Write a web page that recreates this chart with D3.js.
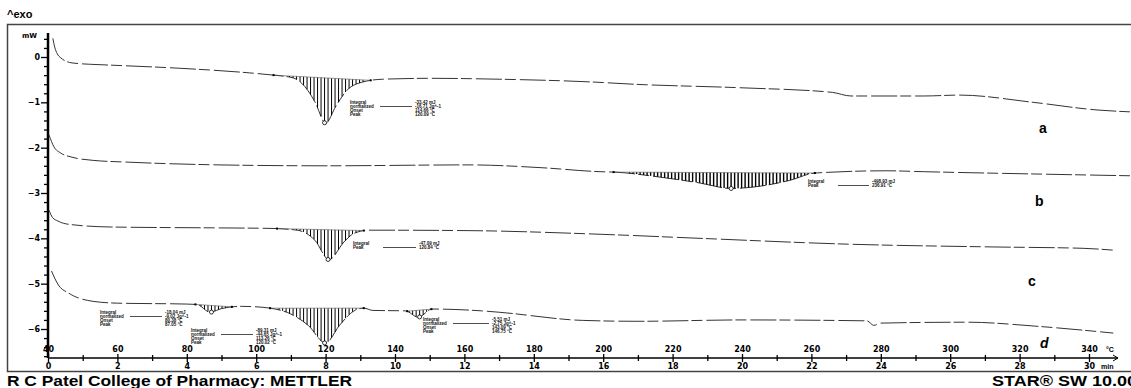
<!DOCTYPE html>
<html>
<head>
<meta charset="utf-8">
<script src="https://cdn.jsdelivr.net/npm/d3@7/dist/d3.min.js"></script>
<style>
body { margin: 0; background: #fff; }
svg text { font-family: "Liberation Sans", Arial, sans-serif; }
</style>
</head>
<body>
<svg id="chart" width="1131" height="388"></svg>
<script>
// thermogram traces, [time (min), heat flow (mW)]
var curveA = [[0.14, 0.41], [0.2, 0.2], [0.26, 0.08], [0.37, -0.02], [0.69, -0.13], [1.2, -0.16],
    [1.82, -0.18], [3.83, -0.25], [5.8, -0.35], [6.5, -0.40], [7.06, -0.46], [7.41, -0.66],
    [7.7, -1.0], [8.0, -1.46], [8.3, -1.08], [8.62, -0.73], [9.08, -0.55], [9.65, -0.49],
    [11.0, -0.47], [13.0, -0.49], [15.65, -0.55], [16.86, -0.60], [20.0, -0.68], [22.6, -0.78],
    [23.14, -0.86], [25.24, -0.86], [26.28, -0.84], [28.39, -1.0], [30.26, -1.17], [31.18, -1.21]];
var curveB = [[0.03, -1.72], [0.17, -1.98], [0.37, -2.12], [0.69, -2.21], [1.3, -2.28], [2.33, -2.32],
    [4.93, -2.38], [8.01, -2.40], [12.13, -2.38], [14.18, -2.44], [15.91, -2.53], [16.34, -2.54],
    [17.64, -2.65], [18.79, -2.78], [19.68, -2.90], [20.52, -2.85], [21.38, -2.72], [22.1, -2.56],
    [24.18, -2.51], [25.24, -2.53], [28.39, -2.58], [31.18, -2.62]];
var curveC = [[0.03, -3.38], [0.13, -3.54], [0.29, -3.62], [0.59, -3.69], [1.82, -3.75], [4.93, -3.77],
    [6.37, -3.78], [7.18, -3.82], [7.69, -4.04], [8.1, -4.47], [8.53, -4.08], [8.82, -3.89],
    [9.25, -3.82], [12.13, -3.83], [15.91, -3.91], [18.79, -4.00], [23.11, -4.13], [27.23, -4.19],
    [29.83, -4.22], [30.69, -4.26]];
var curveD = [[0.1, -4.72], [0.3, -5.03], [0.6, -5.21], [1.3, -5.39], [2.0, -5.43], [4.0, -5.45],
    [4.3, -5.46], [4.67, -5.63], [5.0, -5.55], [5.57, -5.50], [6.17, -5.52], [6.4, -5.54],
    [7.0, -5.67], [7.5, -5.92], [8.0, -6.31], [8.4, -5.92], [8.8, -5.61], [9.1, -5.54],
    [9.36, -5.59], [10.3, -5.60], [10.67, -5.74], [11.07, -5.56], [12.5, -5.60], [13.0, -5.63],
    [15.4, -5.81], [17.0, -5.83], [20.0, -5.80], [23.6, -5.82], [23.8, -5.92], [24.0, -5.87],
    [26.5, -5.85], [28.5, -5.94], [30.7, -6.09]];

var curveNames = ["a", "b", "c", "d"];

// integrated peaks: [start min, end min]
var peaksA = [[6.5, 9.3]];
var peaksB = [[16.3, 22.1]];
var peaksC = [[6.6, 9.1]];
var peaksD = [[4.25, 5.3], [6.4, 9.1], [10.35, 11.05]];

var timeLabels = [0, 2, 4, 6, 8, 10, 12, 14, 16, 18, 20, 22, 24, 26, 28, 30];
var minorTimes = [1, 3, 5, 7, 9, 11, 13, 15, 17, 19, 21, 23, 25, 27, 29];
var tempLabels = [40, 60, 80, 100, 120, 140, 160, 180, 200, 220, 240, 260, 280, 300, 320, 340];
var mwLabels = [0, -1, -2, -3, -4, -5, -6];

// evaluation boxes printed next to the peaks
var evalNames = ["Integral", "normalized", "Onset", "Peak"];
var evalA = ["-33.42 mJ", "-16.71 Jg^-1", "114.66 \u00b0C", "120.09 \u00b0C"];
var evalB = ["-498.93 mJ", "236.91 \u00b0C"];
var evalC = ["-47.09 mJ", "120.84 \u00b0C"];
var evalD1 = ["-18.04 mJ", "-9.02 Jg^-1", "80.38 \u00b0C", "87.05 \u00b0C"];
var evalD2 = ["-89.31 mJ", "-44.65 Jg^-1", "113.26 \u00b0C", "120.02 \u00b0C"];
var evalD3 = ["-5.51 mJ", "-2.75 Jg^-1", "143.09 \u00b0C", "146.75 \u00b0C"];

var svg = d3.select("#chart");
var x = d3.scaleLinear().domain([0, 30]).range([48, 1089]);
var xT = d3.scaleLinear().domain([40, 340]).range([48, 1089]);
var y = d3.scaleLinear().domain([0, -6]).range([57, 329]);
var axisY = 358;

// frame
svg.append("rect")
    .attr("x", 7.5).attr("y", 24.5)
    .attr("width", 1140).attr("height", 347)
    .attr("fill", "none").attr("stroke", "#444").attr("stroke-width", 1.5);

svg.append("text").attr("x", 7).attr("y", 18)
    .style("font-size", "11px").style("font-weight", "bold")
    .text("^exo");

// y axis
var yAxis = d3.axisLeft(y).tickValues(mwLabels).tickSize(7).tickFormat(d3.format("d"));
var gy = svg.append("g").attr("transform", "translate(48,0)").call(yAxis);
gy.select(".domain").remove();
gy.selectAll("text").style("font-size", "8px").style("font-weight", "bold")
    .style("font-family", "'DejaVu Sans', sans-serif").attr("x", -8);
var minorMw = d3.range(-33, 3).map(function(i) { return i / 5; })
    .filter(function(v) { return Math.abs(v - Math.round(v)) > 1e-6; });
svg.append("g").attr("transform", "translate(48,0)")
    .call(d3.axisLeft(y).tickValues(minorMw).tickSize(4).tickFormat(""))
    .select(".domain").remove();
svg.append("line").attr("x1", 48).attr("x2", 48).attr("y1", 33).attr("y2", axisY)
    .attr("stroke", "#000").attr("stroke-width", 2.5);
svg.append("text").attr("x", 22).attr("y", 38)
    .style("font-size", "7px").style("font-weight", "bold")
    .style("font-family", "'DejaVu Sans', sans-serif").text("mW");

// x axis (time below, temperature above)
function crossTicks(vals, len) {
    var g1 = svg.append("g").attr("transform", "translate(0," + axisY + ")")
        .call(d3.axisBottom(x).tickValues(vals).tickSize(len).tickFormat(""));
    var g2 = svg.append("g").attr("transform", "translate(0," + axisY + ")")
        .call(d3.axisTop(x).tickValues(vals).tickSize(len).tickFormat(""));
    g1.select(".domain").remove();
    g2.select(".domain").remove();
}
crossTicks(timeLabels, 4);
crossTicks(minorTimes, 3);
svg.selectAll(".tick line").attr("stroke-width", 1.3);

var gt = svg.append("g").attr("transform", "translate(0," + (axisY + 2) + ")")
    .call(d3.axisBottom(x).tickValues(timeLabels).tickSize(0));
gt.select(".domain").remove();
var gT = svg.append("g").attr("transform", "translate(0," + (axisY - 3) + ")")
    .call(d3.axisTop(xT).tickValues(tempLabels).tickSize(0));
gT.select(".domain").remove();
svg.selectAll("g text").filter(function() { return this.parentNode.parentNode !== gy.node(); })
    .style("font-size", "8px").style("font-weight", "bold")
    .style("font-family", "'DejaVu Sans', sans-serif");
svg.append("line").attr("x1", 48).attr("x2", 1118).attr("y1", axisY).attr("y2", axisY)
    .attr("stroke", "#000").attr("stroke-width", 1.3);
svg.append("path").attr("d", "M1113,355 L1118,358 L1113,361")
    .attr("fill", "none").attr("stroke", "#000");
svg.append("text").attr("x", 1106).attr("y", 352).style("font-size", "7px")
    .style("font-weight", "bold").text("\u00b0C");
svg.append("text").attr("x", 1101).attr("y", 369).style("font-size", "7px")
    .style("font-weight", "bold").text("min");

// traces
var line = d3.line()
    .x(function(d) { return x(d[0]); })
    .y(function(d) { return y(d[1]); })
    .curve(d3.curveMonotoneX);

function drawCurve(data, peaks, hatchWidth) {
    var path = svg.append("path").datum(data)
        .attr("d", line)
        .attr("fill", "none")
        .attr("stroke", "#333")
        .attr("stroke-width", 1)
        .attr("stroke-dasharray", "26,3,11,4");
    var node = path.node();
    var total = node.getTotalLength();
    var pts = [];
    for (var l = 0; l <= total; l += 0.5) pts.push(node.getPointAtLength(l));
    function yAt(px) {
        var best = pts[0];
        for (var i = 1; i < pts.length; i++) {
            if (Math.abs(pts[i].x - px) < Math.abs(best.x - px)) best = pts[i];
        }
        return best.y;
    }
    peaks.forEach(function(p) {
        var x0 = x(p[0]), x1 = x(p[1]);
        var y0 = yAt(x0), y1 = yAt(x1);
        var bottom = { x: x0, y: y0 };
        for (var px = x0 + 2; px < x1 - 1; px += 3.5) {
            var base = y0 + (y1 - y0) * (px - x0) / (x1 - x0);
            var cy = yAt(px);
            if (cy > bottom.y) bottom = { x: px, y: cy };
            if (cy - base > 1) {
                svg.append("line").attr("x1", px).attr("x2", px)
                    .attr("y1", base).attr("y2", cy)
                    .attr("stroke", "#000").attr("stroke-width", hatchWidth);
            }
        }
        svg.append("line").attr("x1", x0).attr("y1", y0).attr("x2", x1).attr("y2", y1)
            .attr("stroke", "#555").attr("stroke-width", 0.6);
        [[x0, y0], [x1, y1]].forEach(function(q) {
            svg.append("rect").attr("x", q[0] - 1).attr("y", q[1] - 1)
                .attr("width", 2).attr("height", 2).attr("fill", "#000");
        });
        svg.append("circle").attr("cx", bottom.x).attr("cy", bottom.y).attr("r", 2)
            .attr("fill", "#fff").attr("stroke", "#000").attr("stroke-width", 0.8);
    });
}

drawCurve(curveA, peaksA, 1);
drawCurve(curveB, peaksB, 1.4);
drawCurve(curveC, peaksC, 1);
drawCurve(curveD, peaksD, 1);

// evaluation text blocks
function evalBox(cx, cy, names, values, gap) {
    var g = svg.append("g").style("font-size", "4.5px").style("font-weight", "bold")
        .attr("fill", "#111");
    names.forEach(function(n, i) {
        g.append("text").attr("x", cx).attr("y", cy + i * 4).text(n);
        g.append("text").attr("x", cx + gap).attr("y", cy + i * 4).text(values[i]);
    });
    g.append("line").attr("x1", cx + 30).attr("x2", cx + gap - 3)
        .attr("y1", cy + 2.5).attr("y2", cy + 2.5).attr("stroke", "#222").attr("stroke-width", 0.8);
}
evalBox(350, 104, evalNames, evalA, 65);
evalBox(808, 183, ["Integral", "Peak"], evalB, 64);
evalBox(353, 245, ["Integral", "Peak"], evalC, 66);
evalBox(100, 314, evalNames, evalD1, 65);
evalBox(191, 332, evalNames, evalD2, 65);
evalBox(423, 321, evalNames, evalD3, 69);

// trace letters
var letterPos = [[1039, 133], [1035, 206], [1028, 286], [1040, 348]];
curveNames.forEach(function(n, i) {
    svg.append("text").attr("x", letterPos[i][0]).attr("y", letterPos[i][1])
        .style("font-size", "14px").style("font-weight", "bold")
        .style("font-style", i === 3 ? "italic" : "normal")
        .text(n);
});

// footer
svg.append("text").attr("x", 7).attr("y", 386)
    .style("font-size", "15px").style("font-weight", "bold")
    .attr("textLength", 345).attr("lengthAdjust", "spacingAndGlyphs")
    .text("R C Patel College of Pharmacy: METTLER");
svg.append("text").attr("x", 992).attr("y", 386)
    .style("font-size", "15px").style("font-weight", "bold")
    .attr("textLength", 145).attr("lengthAdjust", "spacingAndGlyphs")
    .text("STAR\u00ae SW 10.00");
</script>
</body>
</html>
